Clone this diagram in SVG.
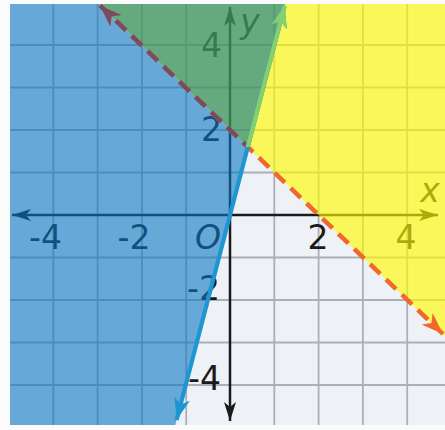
<svg xmlns="http://www.w3.org/2000/svg" width="445" height="430" viewBox="0 0 445 430">
<defs>
<style>
.grid line{stroke:#abafb8;stroke-width:1.8}
.axis{stroke:#1a1a1a;stroke-width:2.5;fill:none}
.lbl{font-family:"DejaVu Sans","Liberation Sans",sans-serif;font-size:33px;fill:#1a1a1a}
.it{font-style:italic}
.dash{fill:none;stroke-width:4.5;stroke-dasharray:14 8}
.bl{fill:none;stroke-width:4.2}
</style>
<marker id="axA" viewBox="-20 -8 22 16" refX="0" refY="0" markerWidth="22" markerHeight="16" markerUnits="userSpaceOnUse" orient="auto-start-reverse"><path d="M0,0 L-19,-6 L-14,0 L-19,6 z" fill="#1a1a1a"/></marker>
<marker id="orA" viewBox="-24 -10 26 20" refX="0" refY="0" markerWidth="26" markerHeight="20" markerUnits="userSpaceOnUse" orient="auto-start-reverse"><path d="M0,0 L-22,-8 L-16,0 L-22,8 z" fill="#f0682c"/></marker>
<marker id="mvA" viewBox="-24 -10 26 20" refX="0" refY="0" markerWidth="26" markerHeight="20" markerUnits="userSpaceOnUse" orient="auto-start-reverse"><path d="M0,0 L-22,-8 L-16,0 L-22,8 z" fill="#7a4c62"/></marker>
<marker id="blA" viewBox="-24 -10 26 20" refX="0" refY="0" markerWidth="26" markerHeight="20" markerUnits="userSpaceOnUse" orient="auto-start-reverse"><path d="M0,0 L-22,-8 L-16,0 L-22,8 z" fill="#1e96d2"/></marker>
<marker id="gnA" viewBox="-24 -10 26 20" refX="0" refY="0" markerWidth="26" markerHeight="20" markerUnits="userSpaceOnUse" orient="auto-start-reverse"><path d="M0,0 L-22,-8 L-16,0 L-22,8 z" fill="#86cf6e"/></marker>
<clipPath id="leftOfBlue"><polygon points="0,0 286,0 174,430 0,430"/></clipPath>
<clipPath id="aboveX"><rect x="0" y="0" width="445" height="147"/></clipPath>
</defs>
<rect width="445" height="430" fill="#fbfbfb"/>
<rect x="10" y="4" width="435" height="421" fill="#eef2f7"/>
<g id="grid" class="grid">
<line x1="53.3" y1="4" x2="53.3" y2="425"/>
<line x1="97.6" y1="4" x2="97.6" y2="425"/>
<line x1="141.9" y1="4" x2="141.9" y2="425"/>
<line x1="186.2" y1="4" x2="186.2" y2="425"/>
<line x1="274.3" y1="4" x2="274.3" y2="425"/>
<line x1="318.6" y1="4" x2="318.6" y2="425"/>
<line x1="362.9" y1="4" x2="362.9" y2="425"/>
<line x1="407.2" y1="4" x2="407.2" y2="425"/>
<line x1="10" y1="45" x2="445" y2="45"/>
<line x1="10" y1="87.5" x2="445" y2="87.5"/>
<line x1="10" y1="130" x2="445" y2="130"/>
<line x1="10" y1="172.5" x2="445" y2="172.5"/>
<line x1="10" y1="257.5" x2="445" y2="257.5"/>
<line x1="10" y1="300" x2="445" y2="300"/>
<line x1="10" y1="342.5" x2="445" y2="342.5"/>
<line x1="10" y1="385" x2="445" y2="385"/>
</g>
<g id="axes">
<path class="axis" d="M12,215 H438" marker-start="url(#axA)" marker-end="url(#axA)"/>
<path class="axis" d="M230,7 V421" marker-start="url(#axA)" marker-end="url(#axA)"/>
</g>
<g id="labels" class="lbl">
<text x="45.5" y="249" text-anchor="middle">-4</text>
<text x="134" y="249" text-anchor="middle">-2</text>
<text x="208" y="249" text-anchor="middle" class="it">O</text>
<text x="318" y="249" text-anchor="middle">2</text>
<text x="406" y="249" text-anchor="middle">4</text>
<text x="430" y="202" text-anchor="middle" class="it">x</text>
<text x="250" y="33" text-anchor="middle" class="it">y</text>
<text x="222" y="57" text-anchor="end">4</text>
<text x="222" y="141" text-anchor="end">2</text>
<text x="220" y="300" text-anchor="end">-2</text>
<text x="221" y="390" text-anchor="end">-4</text>
</g>
<g id="regions">
<polygon id="blue-region" points="10,4 98.7,4 247.7,147 175.3,425 10,425" fill="rgb(12,118,195)" fill-opacity="0.6"/>
<polygon id="overlap-region" points="98.7,4 285,4 247.7,147" fill="rgb(62,150,92)" fill-opacity="0.78"/>
<polygon id="yellow-region" points="285,4 445,4 445,336.3 247.7,147" fill="rgb(255,250,0)" fill-opacity="0.64"/>
</g>
<g id="connectors">
<path class="dash" stroke="#f0682c" d="M100,5.5 L443,334" marker-start="url(#orA)" marker-end="url(#orA)"/>
<path class="dash" stroke="#7a4c62" d="M100,5.5 L443,334" marker-start="url(#mvA)" clip-path="url(#leftOfBlue)"/>
<path class="bl" stroke="#1e96d2" d="M176.6,420 L284.6,5.6" marker-start="url(#blA)" marker-end="url(#blA)"/>
<path class="bl" stroke="#86cf6e" d="M176.6,420 L284.6,5.6" marker-end="url(#gnA)" clip-path="url(#aboveX)"/>
</g>
</svg>
